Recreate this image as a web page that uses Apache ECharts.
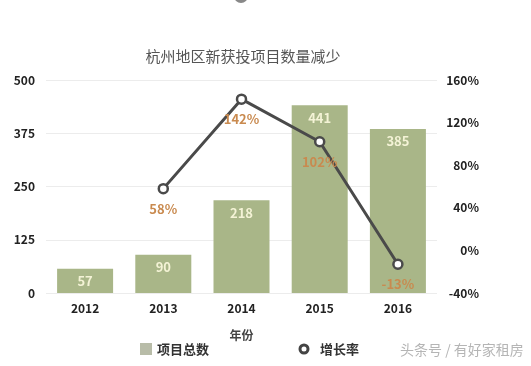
<!DOCTYPE html>
<html><head><meta charset="utf-8">
<script src="https://cdn.jsdelivr.net/npm/echarts@6/dist/echarts.min.js"></script>
<style>html,body{margin:0;padding:0;background:#fff}#c{width:531px;height:366px}</style>
</head><body><div id="c"></div>
<script>
const categories = ['2012','2013','2014','2015','2016'];
const projectTotals = [57, 90, 218, 441, 385];
const growthRates = [null, 58, 142, 102, -13];
const leftTicks = [0, 125, 250, 375, 500];
const rightTicks = [-40, 0, 40, 80, 120, 160];

const chart = echarts.init(document.getElementById('c'));
const F = '"Noto Sans CJK SC","Noto Sans",sans-serif';
chart.setOption({
  backgroundColor: '#fff',
  animation: false,
  title: {
    text: '杭州地区新获投项目数量减少',
    left: 238, top: 44, textAlign: 'center',
    textStyle: {fontFamily: F, fontSize: 15, fontWeight: 'normal', color: '#555'}
  },
  grid: {left: 46, right: 94, top: 80, bottom: 73},
  legend: {
    left: 135, top: 337, itemGap: 93, itemWidth: 12, itemHeight: 12,
    textStyle: {fontFamily: F, fontSize: 13, fontWeight: 'bold', color: '#333'},
    data: [
      {name: '项目总数', icon: 'rect', itemStyle: {color: '#b8bca8'}},
      {name: '增长率', icon: 'emptyCircle', itemStyle: {color: '#fff', borderColor: '#444', borderWidth: 3}}
    ]
  },
  xAxis: {
    type: 'category', data: categories,
    name: '年份', nameLocation: 'middle', nameGap: 36,
    nameTextStyle: {fontFamily: F, fontSize: 12, fontWeight: 'bold', color: '#444'},
    axisLine: {show: false}, axisTick: {show: false},
    axisLabel: {fontFamily: F, fontSize: 12, fontWeight: 'bold', color: '#222', margin: 9}
  },
  yAxis: [{
    type: 'value', min: leftTicks[0], max: leftTicks[leftTicks.length-1], interval: 125,
    axisLine: {show: false}, axisTick: {show: false},
    axisLabel: {fontFamily: F, fontSize: 12, fontWeight: 'bold', color: '#222', margin: 11},
    splitLine: {lineStyle: {color: '#ececec', width: 1}}
  }, {
    type: 'value', min: rightTicks[0], max: rightTicks[rightTicks.length-1], interval: 40,
    axisLine: {show: false}, axisTick: {show: false},
    axisLabel: {fontFamily: F, fontSize: 12, fontWeight: 'bold', color: '#222', align: 'right', margin: 42,
      formatter: v => v + '%'},
    splitLine: {show: false}
  }],
  series: [{
    name: '项目总数', type: 'bar', data: projectTotals, barWidth: 56,
    itemStyle: {color: '#a9b688'},
    label: {show: true, position: 'insideTop', distance: 6, fontFamily: F, fontSize: 13, fontWeight: 'bold', color: '#f4f3d6'}
  }, {
    name: '增长率', type: 'line', yAxisIndex: 1, data: growthRates,
    lineStyle: {color: '#4a4a4a', width: 3},
    itemStyle: {color: '#fff', borderColor: '#4a4a4a', borderWidth: 2.5},
    symbol: 'circle', symbolSize: 9,
    label: {show: true, position: 'bottom', distance: 8, formatter: p => p.value + '%',
      fontFamily: F, fontSize: 13, fontWeight: 'bold', color: '#c98a4f'}
  }],
  graphic: [{
    type: 'text', left: 400, top: 343,
    style: {text: '头条号 / 有好家租房', fontFamily: F, fontSize: 14, fill: '#b5b5b5'}
  }, {
    type: 'circle', shape: {cx: 241, cy: -4, r: 7}, style: {fill: '#888'}
  }, {
    type: 'circle', shape: {cx: 304, cy: 349, r: 4}, style: {fill: '#fff', stroke: '#444', lineWidth: 3}, z: 100
  }]
});
</script></body></html>
